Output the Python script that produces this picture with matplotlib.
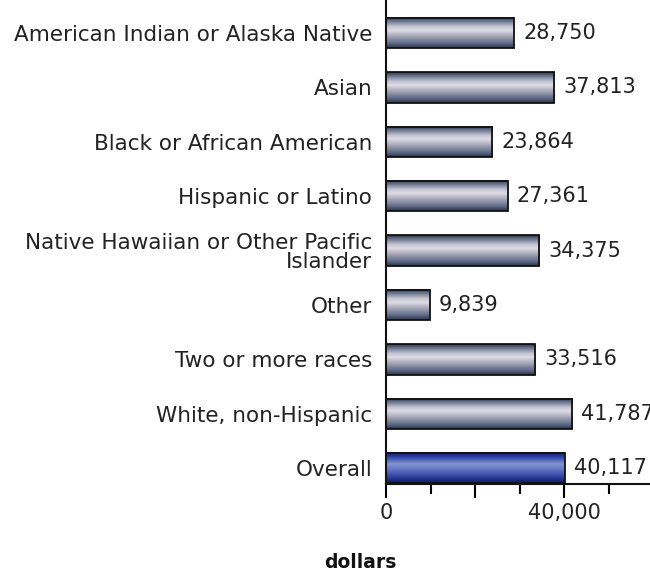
import numpy as np
import matplotlib
matplotlib.use("Agg")
import matplotlib.pyplot as plt
from matplotlib.colors import LinearSegmentedColormap

# dollars per group
groups = ["American Indian or Alaska Native", "Asian", "Black or African American",
          "Hispanic or Latino", "Native Hawaiian or Other Pacific\nIslander", "Other",
          "Two or more races", "White, non-Hispanic", "Overall"]
values = [28750, 37813, 23864, 27361, 34375, 9839, 33516, 41787, 40117]
major_ticks = [0, 20000, 40000]
major_labels = ["0", "", "40,000"]
minor_ticks = [10000, 30000, 50000]

plt.rcParams['font.family'] = ['DejaVu Sans']

# cylinder-like shading, top -> bottom
grey_cmap = LinearSegmentedColormap.from_list("grey_bar", [
    (0.0, "#2a3448"), (0.1, "#5e6c84"), (0.3, "#c4c4d2"), (0.42, "#dedce6"),
    (0.62, "#a6a6b6"), (0.86, "#5c6886"), (1.0, "#2a3448")])
blue_cmap = LinearSegmentedColormap.from_list("blue_bar", [
    (0.0, "#121c62"), (0.14, "#2a3ea0"), (0.38, "#8494d6"), (0.55, "#6678c6"),
    (0.84, "#283a9a"), (1.0, "#111a5c")])

fig = plt.figure(figsize=(6.5, 5.76), dpi=100)
ax = fig.add_axes([386 / 650, 92 / 576, 264 / 650, 484 / 576])

pos = np.arange(len(groups))
bars = ax.barh(pos, values, height=0.56, facecolor="none", edgecolor="#111111",
               linewidth=1.3, zorder=3)

shade = np.linspace(0, 1, 64).reshape(-1, 1)
for name, b in zip(groups, bars):
    x0, y0, w, h = b.get_x(), b.get_y(), b.get_width(), b.get_height()
    cmap = blue_cmap if name == "Overall" else grey_cmap
    ax.imshow(shade, cmap=cmap, aspect="auto", origin="upper",
              extent=(x0, x0 + w, y0 + h, y0), zorder=2, interpolation="bilinear")

for i, v in enumerate(values):
    ax.annotate(f"{v:,}", xy=(v, i), xytext=(6.5, 0), textcoords="offset points",
                va="center", ha="left", fontsize=15, color="#222222",
                annotation_clip=False, clip_on=False)

ax.set_xlim(0, 59300)
ax.set_ylim(8.29, -0.607)

ax.set_yticks(pos)
ax.set_yticklabels(groups, fontsize=15.5, color="#222222")
for lab in ax.get_yticklabels():
    lab.set_linespacing(0.95)
ax.tick_params(axis="y", length=0, pad=10)

ax.set_xticks(major_ticks)
ax.set_xticklabels(major_labels, fontsize=15, color="#222222")
ax.set_xticks(minor_ticks, minor=True)
ax.tick_params(axis="x", which="major", length=10, width=1.5, direction="out", pad=4)
ax.tick_params(axis="x", which="minor", length=7, width=1.5, direction="out")

for s in ["top", "right"]:
    ax.spines[s].set_visible(False)
for s in ["left", "bottom"]:
    ax.spines[s].set_linewidth(1.5)
    ax.spines[s].set_color("#111111")

fig.text(360 / 650, 1 - 562 / 576, "dollars", ha="center", va="center",
         fontsize=13.5, fontweight="bold", color="#111111")

fig.savefig("out.png", dpi=100)
